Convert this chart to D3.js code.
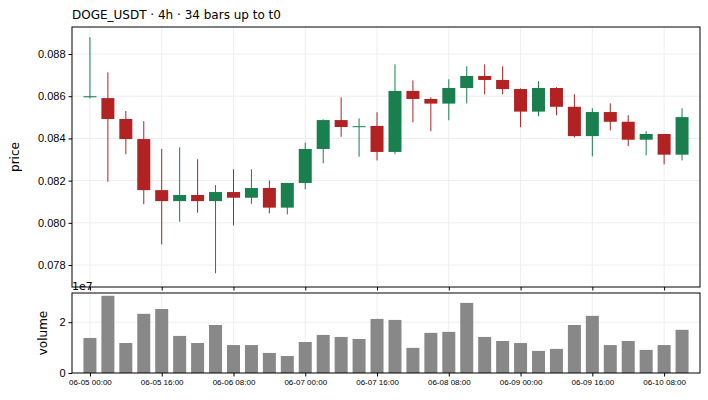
<!DOCTYPE html>
<html><head><meta charset="utf-8">
<script src="https://cdn.jsdelivr.net/npm/d3@7"></script>
<style>body{margin:0;background:#fff;font-family:"DejaVu Sans",sans-serif}</style>
</head><body><svg id="chart" width="708" height="400"></svg>
<script>
const opens  = [.08595,.08591,.08492,.08397,.08155,.08103,.08132,.08103,.08146,.08119,.08165,.08072,.08189,.0835,.08487,.08455,.08459,.08336,.08625,.08587,.08565,.08639,.08696,.08677,.08634,.08527,.08639,.0855,.08411,.08525,.08479,.08394,.08421,.08323];
const closes = [.0860,.08492,.08397,.08155,.08103,.08132,.08103,.08146,.08119,.08165,.08072,.08189,.0835,.08487,.08454,.08458,.08336,.08625,.08587,.08565,.08639,.08696,.08677,.08634,.08527,.08639,.0855,.08411,.08525,.08479,.08394,.08421,.08323,.08501];
const highs  = [.0888,.08713,.0853,.08482,.0835,.08358,.08301,.08179,.08254,.08254,.08201,.08189,.0838,.0849,.08595,.08495,.08524,.08751,.08675,.08595,.0868,.08742,.08751,.08742,.08637,.08671,.08643,.08609,.08543,.08566,.0851,.08434,.08421,.08543];
const lows   = [.0859,.08195,.08325,.08088,.07898,.08005,.08048,.07761,.07988,.0809,.08045,.0804,.08159,.08282,.08408,.08313,.08296,.08325,.08476,.08434,.08486,.08566,.08609,.08609,.08453,.08505,.0851,.08405,.08315,.08438,.08363,.0832,.08277,.08296];
const volumes = [1.38,3.04,1.18,2.33,2.52,1.46,1.18,1.89,1.10,1.10,0.79,0.67,1.22,1.50,1.42,1.34,2.13,2.09,0.99,1.58,1.62,2.76,1.42,1.26,1.18,0.87,0.95,1.89,2.25,1.10,1.26,0.91,1.10,1.70].map(v => v * 1e7);
const tickIdx = [0,4,8,12,16,20,24,28,32];
const tickLabels = ["06-05 00:00","06-05 16:00","06-06 08:00","06-07 00:00","06-07 16:00","06-08 08:00","06-09 00:00","06-09 16:00","06-10 08:00"];
const priceTicks = [0.078,0.080,0.082,0.084,0.086,0.088];

const svg = d3.select("#chart");
const L = 72, R = 700;
const x = d3.scaleLinear().domain([-1, 34]).range([L, R]);
const y = d3.scaleLinear().domain([0.07696, 0.08928]).range([287, 27]);
const yv = d3.scaleLinear().domain([0, 3.15e7]).range([373, 293]);
const up = "#1a7f4e", down = "#b22222";
const n = opens.length;
const idx = d3.range(n);

svg.append("text").attr("x", L).attr("y", 19).attr("font-size", 12)
    .text("DOGE_USDT  ·  4h  ·  34 bars up to t0");

// main panel grid
const g = svg.append("g");
g.selectAll(".hg").data(priceTicks).join("line")
    .attr("x1", L).attr("x2", R).attr("y1", d => y(d)).attr("y2", d => y(d))
    .attr("stroke", "#eee");
g.selectAll(".vg").data(tickIdx).join("line")
    .attr("x1", d => x(d)).attr("x2", d => x(d)).attr("y1", 27).attr("y2", 287)
    .attr("stroke", "#eee");
svg.append("line").attr("x1", L).attr("x2", R).attr("y1", yv(2e7)).attr("y2", yv(2e7)).attr("stroke", "#eee");
svg.selectAll(".vg2").data(tickIdx).join("line")
    .attr("x1", d => x(d)).attr("x2", d => x(d)).attr("y1", 293).attr("y2", 373)
    .attr("stroke", "#eee");

// candles
const col = i => closes[i] >= opens[i] ? up : down;
g.selectAll(".wick").data(idx).join("line")
    .attr("x1", i => x(i)).attr("x2", i => x(i))
    .attr("y1", i => y(highs[i])).attr("y2", i => y(lows[i]))
    .attr("stroke", col).attr("stroke-width", 1);
g.selectAll(".body").data(idx).join("rect")
    .attr("x", i => x(i) - 6.5).attr("width", 13)
    .attr("y", i => y(Math.max(opens[i], closes[i])))
    .attr("height", i => Math.max(1, Math.abs(y(opens[i]) - y(closes[i]))))
    .attr("fill", col);

// volume
svg.selectAll(".vol").data(idx).join("rect")
    .attr("x", i => x(i) - 6.5).attr("width", 13)
    .attr("y", i => yv(volumes[i])).attr("height", i => 373 - yv(volumes[i]))
    .attr("fill", "#888");

// axes
const ya = svg.append("g").attr("transform", `translate(${L},0)`)
    .call(d3.axisLeft(y).tickValues(priceTicks).tickFormat(d3.format(".3f")).tickSize(3.5));
ya.selectAll("text").attr("font-size", 11).attr("fill", "#000");
const va = svg.append("g").attr("transform", `translate(${L},0)`)
    .call(d3.axisLeft(yv).tickValues([0, 2e7]).tickFormat(d => d / 1e7).tickSize(3.5));
va.selectAll("text").attr("font-size", 11).attr("fill", "#000");
const xa = svg.append("g").attr("transform", "translate(0,287)")
    .call(d3.axisBottom(x).tickValues(tickIdx).tickFormat("").tickSize(3.5));
const xb = svg.append("g").attr("transform", "translate(0,373)")
    .call(d3.axisBottom(x).tickValues(tickIdx).tickFormat((d, i) => tickLabels[i]).tickSize(3.5));
xb.selectAll("text").attr("font-size", 8).attr("fill", "#000");
[xa, xb, ya, va].forEach(a => a.select(".domain").remove());

svg.append("rect").attr("x", L).attr("y", 27).attr("width", R - L).attr("height", 260)
    .attr("fill", "none").attr("stroke", "#000");
svg.append("rect").attr("x", L).attr("y", 293).attr("width", R - L).attr("height", 80)
    .attr("fill", "none").attr("stroke", "#000");

svg.append("text").attr("x", L).attr("y", 290).attr("font-size", 11).text("1e7");
svg.append("text").attr("transform", "translate(19,157) rotate(-90)").attr("text-anchor", "middle")
    .attr("font-size", 12).text("price");
svg.append("text").attr("transform", "translate(47,333) rotate(-90)").attr("text-anchor", "middle")
    .attr("font-size", 12).text("volume");
</script></body></html>
